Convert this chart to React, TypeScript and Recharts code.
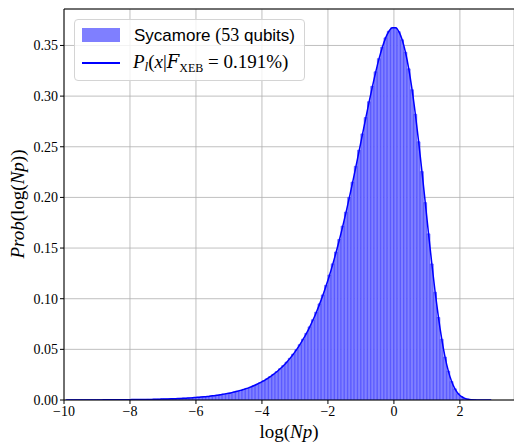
import React from 'react';
import { ComposedChart, Bar, Line, XAxis, YAxis, CartesianGrid, ReferenceLine } from 'recharts';

// histogram bins: width 0.1, from -10 to 3
const binStart = -10;
const binWidth = 0.1;

// bin heights (probability density of log(Np))
const density = [
  0.0000, 0.0001, 0.0001, 0.0001, 0.0001, 0.0001, 0.0001, 0.0001, 0.0001, 0.0001,
  0.0001, 0.0001, 0.0002, 0.0002, 0.0002, 0.0002, 0.0002, 0.0003, 0.0003, 0.0003,
  0.0004, 0.0004, 0.0004, 0.0005, 0.0005, 0.0006, 0.0006, 0.0007, 0.0008, 0.0009,
  0.0010, 0.0011, 0.0012, 0.0013, 0.0014, 0.0016, 0.0017, 0.0019, 0.0021, 0.0024,
  0.0026, 0.0029, 0.0032, 0.0035, 0.0039, 0.0043, 0.0047, 0.0052, 0.0058, 0.0064,
  0.0070, 0.0078, 0.0086, 0.0095, 0.0105, 0.0115, 0.0127, 0.0141, 0.0155, 0.0171,
  0.0189, 0.0208, 0.0230, 0.0253, 0.0279, 0.0308, 0.0339, 0.0373, 0.0411, 0.0452,
  0.0497, 0.0546, 0.0600, 0.0658, 0.0722, 0.0792, 0.0867, 0.0949, 0.1037, 0.1132,
  0.1234, 0.1344, 0.1461, 0.1585, 0.1717, 0.1855, 0.2000, 0.2151, 0.2307, 0.2466,
  0.2627, 0.2788, 0.2945, 0.3097, 0.3240, 0.3370, 0.3483, 0.3575, 0.3640, 0.3674,
  0.3674, 0.3636, 0.3556, 0.3433, 0.3269, 0.3063, 0.2821, 0.2549, 0.2255, 0.1949,
  0.1640, 0.1343, 0.1064, 0.0815, 0.0600, 0.0424, 0.0285, 0.0182, 0.0110, 0.0062,
  0.0033, 0.0016, 0.0007, 0.0003, 0.0001, 0.0000, 0.0000, 0.0000, 0.0000, 0.0000,
];

const xTicks = [-10, -8, -6, -4, -2, 0, 2];
const yTicks = [0, 0.05, 0.1, 0.15, 0.2, 0.25, 0.3, 0.35];

const data = density.map((v, i) => ({
  x: +(binStart + binWidth * (i + 0.5)).toFixed(2),
  hist: v,
  curve: v,
}));

const serif = '"Liberation Serif", "DejaVu Serif", serif';
const sans = '"Liberation Sans", "DejaVu Sans", sans-serif';

const fmtX = (v: number) => (v < 0 ? '\u2212' + Math.abs(v) : String(v));

const XLabel = () => (
  <text x={289} y={438} textAnchor="middle" fontFamily={serif} fontSize={19} fill="#000">
    log(<tspan fontStyle="italic">Np</tspan>)
  </text>
);

const YLabel = () => (
  <text x={0} y={0} transform="translate(24,204) rotate(-90)" textAnchor="middle" fontFamily={serif} fontSize={19} fill="#000">
    <tspan fontStyle="italic">Prob</tspan>(log(<tspan fontStyle="italic">Np</tspan>))
  </text>
);

const App = () => {
  return (
    <div style={{ position: 'absolute', left: 0, top: 0, width: 514, height: 443, background: '#fff' }}>
      <ComposedChart
        width={514}
        height={443}
        data={data}
        margin={{ top: 9, right: 0, left: 0, bottom: 0 }}
        barCategoryGap={0}
        barGap={0}
      >
        <CartesianGrid stroke="#b0b0b0" strokeWidth={0.8} />
        <XAxis
          dataKey="x"
          type="number"
          domain={[-10, 3.64]}
          allowDataOverflow
          ticks={xTicks}
          tickFormatter={fmtX}
          height={43}
          tickSize={4}
          axisLine={{ stroke: '#000', strokeWidth: 1 }}
          tickLine={{ stroke: '#000' }}
          tick={{ fill: '#000', fontFamily: serif, fontSize: 14 }}
          label={<XLabel />}
        />
        <YAxis
          type="number"
          domain={[0, 0.386]}
          allowDataOverflow
          ticks={yTicks}
          tickFormatter={(v: number) => v.toFixed(2)}
          width={64}
          tickSize={4}
          axisLine={{ stroke: '#000', strokeWidth: 1 }}
          tickLine={{ stroke: '#000' }}
          tick={{ fill: '#000', fontFamily: serif, fontSize: 14 }}
          label={<YLabel />}
        />
        <ReferenceLine y={0.386} stroke="#000" strokeWidth={1} ifOverflow="visible" />
        <Bar
          dataKey="hist"
          fill="#8080ff"
          stroke="#4545ff"
          strokeWidth={0.7}
          isAnimationActive={false}
        />
        <Line
          dataKey="curve"
          type="monotone"
          stroke="blue"
          strokeWidth={1.5}
          dot={false}
          activeDot={false}
          isAnimationActive={false}
        />
      </ComposedChart>
      <div
        style={{
          position: 'absolute',
          left: 74,
          top: 19,
          width: 229,
          height: 60,
          border: '1px solid #d4d4d4',
          borderRadius: 4,
          background: 'rgba(255,255,255,0.8)',
        }}
      >
        <div style={{ position: 'absolute', left: 7, top: 8, width: 38, height: 14, background: 'rgba(0,0,255,0.5)' }} />
        <div style={{ position: 'absolute', left: 7, top: 42, width: 38, height: 1.5, background: 'blue' }} />
        <div style={{ position: 'absolute', left: 59, top: 3, fontFamily: sans, fontSize: 17, whiteSpace: 'nowrap', lineHeight: '24px' }}>
          Sycamore <span style={{ fontFamily: serif, fontSize: 18 }}>(53</span> qubits)
        </div>
        <div style={{ position: 'absolute', left: 58, top: 30, fontFamily: serif, fontSize: 19, whiteSpace: 'nowrap', lineHeight: '24px' }}>
          <i>P</i>
          <sub style={{ fontSize: 13, fontStyle: 'italic', verticalAlign: '-3px' }}>l</sub>(<i>x</i>|<i style={{ fontFamily: '"DejaVu Serif", serif', fontSize: 18 }}>F</i>
          <sub style={{ fontSize: 12, verticalAlign: '-4px' }}>XEB</sub>{' = 0.191%)'}
        </div>
      </div>
    </div>
  );
};

export default App;
